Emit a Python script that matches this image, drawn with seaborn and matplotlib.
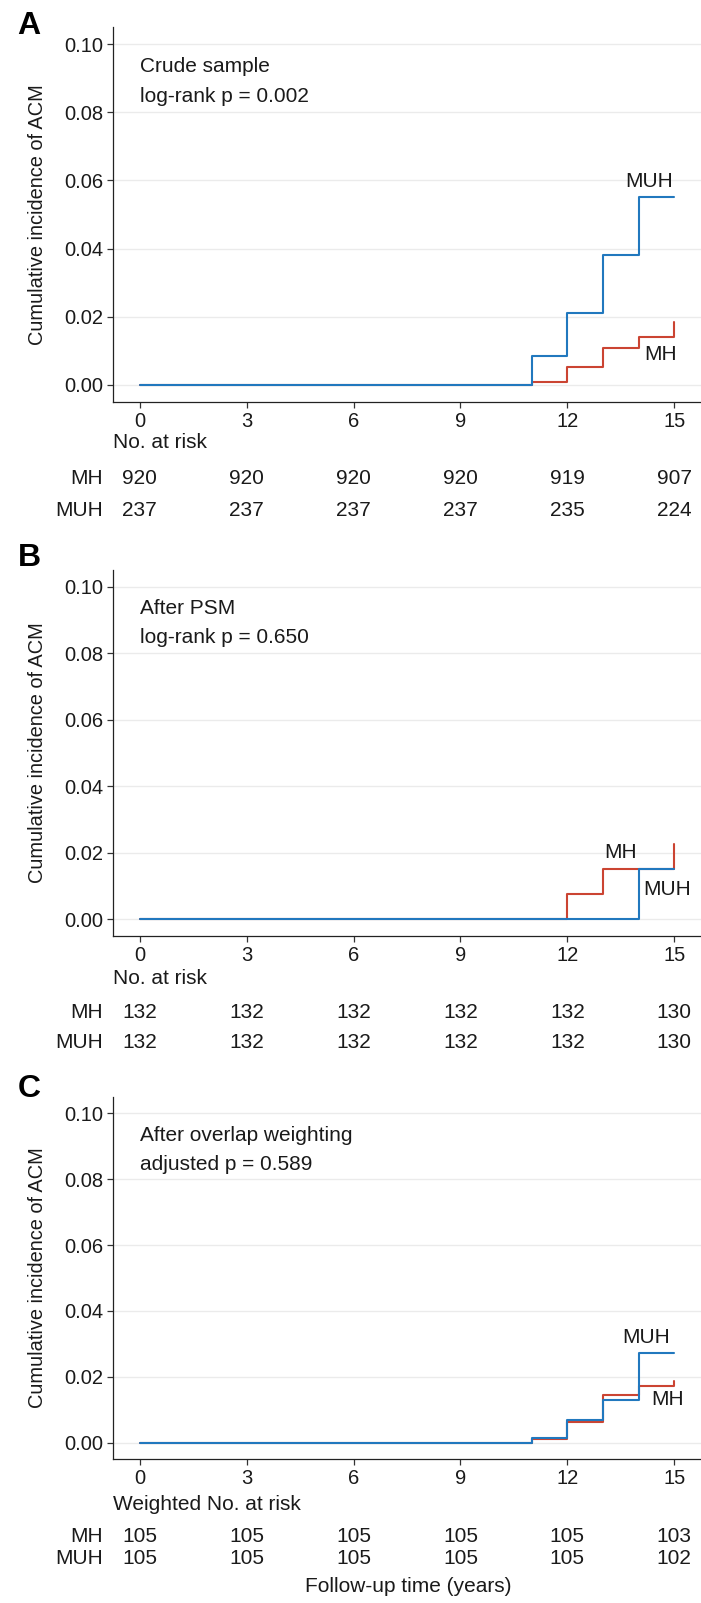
import numpy as np
import pandas as pd
import matplotlib
matplotlib.use("Agg")
import matplotlib.pyplot as plt
import matplotlib.transforms as mtransforms
import seaborn as sns

# ---------------- data ----------------
times = [0, 11, 12, 13, 14, 15]
groups = ["MH", "MUH"]

a_mh = [0.0, 0.0010, 0.0054, 0.0109, 0.0141, 0.0184]
a_muh = [0.0, 0.0084, 0.0212, 0.0381, 0.0550, 0.0550]
b_mh = [0.0, 0.0, 0.0075, 0.0151, 0.0151, 0.0226]
b_muh = [0.0, 0.0, 0.0, 0.0, 0.0151, 0.0151]
c_mh = [0.0, 0.0010, 0.0062, 0.0145, 0.0172, 0.0187]
c_muh = [0.0, 0.0015, 0.0068, 0.0128, 0.0272, 0.0272]

risk_times = [0, 3, 6, 9, 12, 15]
a_risk_mh = [920, 920, 920, 920, 919, 907]
a_risk_muh = [237, 237, 237, 237, 235, 224]
b_risk_mh = [132, 132, 132, 132, 132, 130]
b_risk_muh = [132, 132, 132, 132, 132, 130]
c_risk_mh = [105, 105, 105, 105, 105, 103]
c_risk_muh = [105, 105, 105, 105, 105, 102]

panel_letters = ["A", "B", "C"]
panel_titles = ["Crude sample", "After PSM", "After overlap weighting"]
panel_pvals = ["log-rank p = 0.002", "log-rank p = 0.650", "adjusted p = 0.589"]
risk_titles = ["No. at risk", "No. at risk", "Weighted No. at risk"]
y_ticks = [0.00, 0.02, 0.04, 0.06, 0.08, 0.10]
x_ticks = [0, 3, 6, 9, 12, 15]
ylabel = "Cumulative incidence of ACM"
xlabel = "Follow-up time (years)"

# label positions (data coords) for curve labels
label_pos = [
    {"MUH": (14.3, 0.0597), "MH": (14.62, 0.0088)},
    {"MH": (13.5, 0.0200), "MUH": (14.8, 0.0090)},
    {"MUH": (14.2, 0.0318), "MH": (14.8, 0.0130)},
]

colors = {"MH": "#CB4432", "MUH": "#2178BE"}

# ---------------- style ----------------
sns.set_theme(style="white")
plt.rcParams["font.family"] = ["Liberation Sans", "DejaVu Sans"]

W, H = 701, 1603
fig = plt.figure(figsize=(W / 100, H / 100), dpi=100)

def px_axes(left, top, right, bottom):
    return fig.add_axes([left / W, 1 - bottom / H, (right - left) / W, (bottom - top) / H])

FS = 15
TXT = "#1a1a1a"

# pixel layouts for each panel
AX_L, AX_R = 113, 701
axes_px = [(AX_L, 27, AX_R, 402), (AX_L, 570, AX_R, 936), (AX_L, 1097, AX_R, 1459)]
letter_y = [26, 558, 1089]
risk_title_y = [443, 979, 1504]
risk_mh_y = [479, 1012, 1536]
risk_muh_y = [510, 1042, 1558]

curves = [(a_mh, a_muh), (b_mh, b_muh), (c_mh, c_muh)]
risks = [(a_risk_mh, a_risk_muh), (b_risk_mh, b_risk_muh), (c_risk_mh, c_risk_muh)]

for i in range(3):
    ax = px_axes(*axes_px[i])
    mh, muh = curves[i]
    df = pd.DataFrame({
        "time": times * 2,
        "cif": list(mh) + list(muh),
        "group": ["MH"] * len(times) + ["MUH"] * len(times),
    })
    for g in groups:
        sub = df[df["group"] == g]
        sns.lineplot(data=sub, x="time", y="cif", color=colors[g], ax=ax,
                     drawstyle="steps-post", estimator=None, linewidth=1.5,
                     legend=False)
    ax.set_xlim(-0.75, 15.75)
    ax.set_ylim(-0.005, 0.105)
    ax.set_yticks(y_ticks)
    ax.set_yticklabels([f"{v:.2f}" for v in y_ticks])
    ax.set_xticks(x_ticks)
    ax.set_xticklabels([str(v) for v in x_ticks])
    for v in y_ticks:
        ax.axhline(v, color="#EBEBEB", linewidth=1.0, zorder=0)
    for s in ["top", "right"]:
        ax.spines[s].set_visible(False)
    for s in ["left", "bottom"]:
        ax.spines[s].set_color("#222222")
        ax.spines[s].set_linewidth(0.9)
    ax.tick_params(axis="both", which="major", direction="out", length=4,
                   width=0.9, color="#333333", labelsize=14.5, labelcolor=TXT, pad=3,
                   left=True, bottom=True)
    ax.set_xlabel("")
    ax.set_ylabel(ylabel, fontsize=14.4, color=TXT)
    ax.yaxis.set_label_coords((47 - AX_L) / (AX_R - AX_L), 0.5)
    ax.text(0.0, 0.0934, panel_titles[i], fontsize=FS, color=TXT, ha="left", va="center")
    ax.text(0.0, 0.0846, panel_pvals[i], fontsize=FS, color=TXT, ha="left", va="center")
    for g, (lx, ly) in label_pos[i].items():
        ax.text(lx, ly, g, fontsize=FS, color=TXT, ha="center", va="center")

    fig.text(29 / W, 1 - letter_y[i] / H, panel_letters[i], fontsize=23,
             fontweight="bold", color="black", ha="center", va="center")

    trans = mtransforms.blended_transform_factory(ax.transData, fig.transFigure)
    fig.text(AX_L / W, 1 - risk_title_y[i] / H, risk_titles[i], fontsize=FS,
             color=TXT, ha="left", va="center")
    rmh, rmuh = risks[i]
    for t, v in zip(risk_times, rmh):
        ax.text(t, 1 - risk_mh_y[i] / H, str(v), transform=trans, fontsize=FS,
                color=TXT, ha="center", va="center")
    for t, v in zip(risk_times, rmuh):
        ax.text(t, 1 - risk_muh_y[i] / H, str(v), transform=trans, fontsize=FS,
                color=TXT, ha="center", va="center")
    fig.text(103 / W, 1 - risk_mh_y[i] / H, "MH", fontsize=FS, color=TXT,
             ha="right", va="center")
    fig.text(103 / W, 1 - risk_muh_y[i] / H, "MUH", fontsize=FS, color=TXT,
             ha="right", va="center")

fig.text(408 / W, 1 - 1587 / H, xlabel, fontsize=FS, color=TXT,
         ha="center", va="center")

fig.savefig("out.png", dpi=100, facecolor="white")
